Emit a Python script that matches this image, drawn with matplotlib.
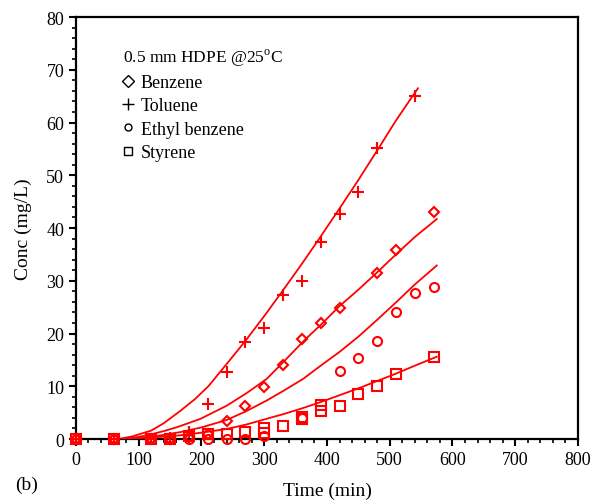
import numpy as np
import matplotlib
matplotlib.use('Agg')
import matplotlib.pyplot as plt
from matplotlib.lines import Line2D

t_benz = [0, 60, 120, 150, 180, 210, 240, 270, 300, 330, 360, 390, 420, 480, 510, 570]
c_benz = [0, 0, 0, 0, 0.4, 0.9, 3.5, 6.3, 9.9, 14.0, 19.0, 22.0, 24.8, 31.5, 35.9, 43.0]

t_tol = [0, 60, 120, 150, 180, 210, 240, 270, 300, 330, 360, 390, 420, 450, 480, 540]
c_tol = [0, 0, 0, 0.2, 1.3, 6.7, 12.7, 18.3, 21.0, 27.3, 30.0, 37.4, 42.7, 46.9, 55.2, 65.1]

t_eb = [0, 60, 120, 150, 180, 210, 240, 270, 300, 360, 420, 450, 480, 510, 540, 570]
c_eb = [0, 0, 0, 0, 0, 0, 0, 0, 0.6, 3.9, 12.8, 15.4, 18.5, 24.1, 27.6, 28.8]

t_sty = [0, 60, 120, 150, 180, 210, 240, 270, 300, 300, 330, 360, 360, 390, 390, 420, 450, 480, 510, 570]
c_sty = [0, 0, 0, 0, 0.5, 1.0, 1.0, 1.3, 2.0, 1.2, 2.5, 4.1, 3.7, 6.4, 5.3, 6.2, 8.5, 10.1, 12.4, 15.6]

# model curves
tl_tol = [68, 90, 120, 140, 166, 190, 211, 240, 270, 300, 330, 360, 390, 420, 450, 480, 510, 545]
cl_tol = [0, 0.5, 1.6, 3.0, 5.3, 7.6, 10.0, 14.2, 18.6, 23.3, 28.2, 33.2, 38.4, 43.7, 49.1, 54.7, 60.4, 66.5]

tl_benz = [72, 100, 120, 140, 160, 198, 240, 272, 304, 333, 363, 394, 420, 450, 480, 510, 540, 575]
cl_benz = [0, 0.4, 0.9, 1.5, 2.2, 3.8, 6.3, 8.7, 11.4, 14.9, 18.6, 22.1, 25.2, 28.3, 31.6, 35.0, 38.3, 41.7]

tl_eb = [76, 100, 120, 140, 166, 200, 240, 270, 304, 333, 362, 390, 421, 450, 480, 510, 540, 575]
cl_eb = [0, 0.2, 0.4, 0.8, 1.3, 2.2, 3.6, 5.2, 7.3, 9.3, 11.4, 13.9, 16.6, 19.4, 22.6, 25.9, 29.3, 32.9]

tl_sty = [72, 100, 120, 140, 166, 200, 240, 270, 300, 330, 360, 390, 420, 450, 480, 510, 540, 575]
cl_sty = [0, 0.15, 0.3, 0.45, 0.7, 1.2, 1.9, 2.7, 3.7, 4.7, 5.8, 7.0, 8.3, 9.6, 11.0, 12.4, 13.9, 15.6]

plt.rcParams['font.family'] = 'Liberation Serif'
plt.rcParams['mathtext.fontset'] = 'custom'
plt.rcParams['mathtext.rm'] = 'Liberation Serif'

fig = plt.figure(figsize=(5.98, 5.02), dpi=100)
ax = fig.add_axes([0.127, 0.1235, 0.8395, 0.8405])

red = '#ff0000'
lw = 1.3
for tl, cl in [(tl_tol, cl_tol), (tl_benz, cl_benz), (tl_eb, cl_eb), (tl_sty, cl_sty)]:
    ax.plot(tl, cl, color=red, lw=lw, zorder=3, solid_joinstyle='round')

mk = dict(ls='none', mfc='none', mec=red, mew=1.5, zorder=4, clip_on=False)
ax.plot(t_benz, c_benz, marker='D', ms=5.5, **mk)
ax.plot(t_tol, c_tol, marker='+', ms=8, **mk)
ax.plot(t_eb, c_eb, marker='o', ms=6.5, **mk)
ax.plot(t_sty, c_sty, marker='s', ms=6.5, **mk)

ax.set_xlim(0, 800)
ax.set_ylim(0, 80)
ax.set_xticks(np.arange(0, 801, 100))
ax.set_xticks(np.arange(0, 801, 20), minor=True)
ax.set_yticks(np.arange(0, 81, 10))
ax.set_yticks(np.arange(0, 81, 2), minor=True)
ax.tick_params(which='major', direction='out', length=5, width=1.5, labelsize=13,
               top=False, right=False)
ax.tick_params(which='minor', direction='out', length=3, width=1.2, top=False, right=False)
for s in ax.spines.values():
    s.set_linewidth(1.6)

ax.set_xlabel('Time (min)', fontsize=14)
ax.set_ylabel('Conc (mg/L)', fontsize=14)
ax.xaxis.set_label_coords(0.5, -0.1)
ax.yaxis.set_label_coords(-0.088, 0.5)

handles = [Line2D([], [], ls='none', marker='D', ms=6, mfc='none', mec='k', mew=1.0),
           Line2D([], [], ls='none', marker='+', ms=8, mfc='none', mec='k', mew=1.0),
           Line2D([], [], ls='none', marker='o', ms=5, mfc='none', mec='k', mew=1.0),
           Line2D([], [], ls='none', marker='s', ms=6, mfc='none', mec='k', mew=1.0)]
labels = ['Benzene', 'Toluene', 'Ethyl benzene', 'Styrene']
leg = ax.legend(handles, labels, title='0.5 mm HDPE @25$^{\\rm o}$C', loc='upper left',
                bbox_to_anchor=(0.075, 0.952), frameon=False, fontsize=13,
                title_fontsize=12.5, handlelength=0.6, handletextpad=0.4,
                labelspacing=0.35, alignment='left', borderpad=0)

fig.text(0.025, 0.025, '(b)', fontsize=14)

fig.savefig('out.png', dpi=100)
